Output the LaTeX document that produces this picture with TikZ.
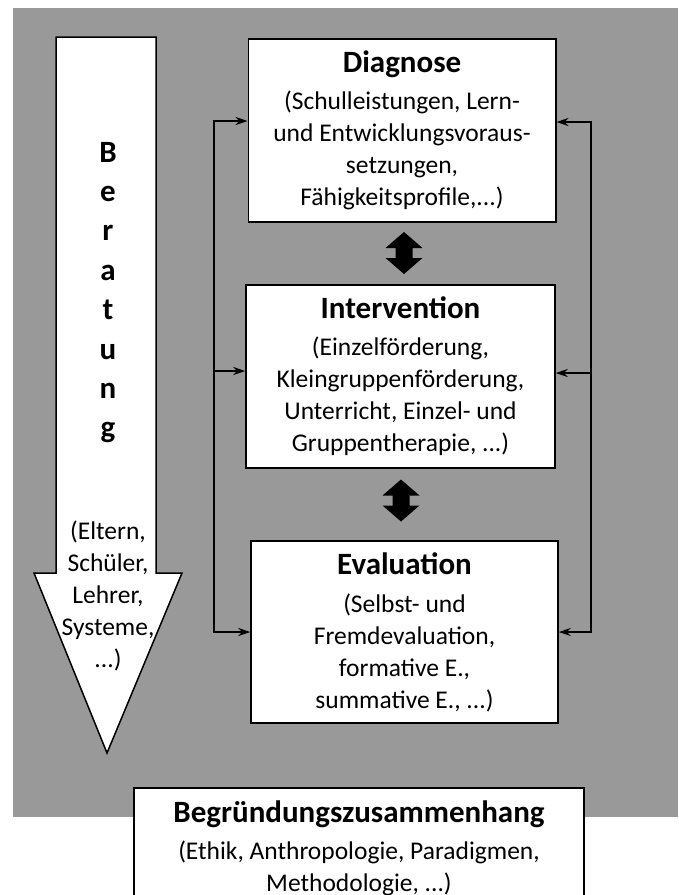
\documentclass[tikz,border=0pt]{standalone}
\usepackage{fontspec}
\setmainfont{Carlito}
\usetikzlibrary{arrows.meta}
\definecolor{panelgray}{RGB}{153,153,153}
\newcommand\boxtitle[1]{{\fontsize{31}{38}\selectfont\bfseries #1}}
\begin{document}
\begin{tikzpicture}[x=1pt,y=-1pt,
  bodyfont/.style={font=\fontsize{25.5}{32}\selectfont},
  box/.style={draw=black, line width=1.5pt, fill=white, align=center, inner sep=0pt, bodyfont},
  link/.style={line width=1.3pt, draw=black, line join=miter},
  linkarrow/.style={link, -{Stealth[length=12pt,width=8pt]}},
  dblarrow/.pic={\fill[black] (0,-21) -- (18.5,-5) -- (8.5,-5) -- (8.5,5) -- (18.5,5) -- (0,21)
     -- (-18.5,5) -- (-8.5,5) -- (-8.5,-5) -- (-18.5,-5) -- cycle;},
]
\useasboundingbox (0,0) rectangle (678,895);
% grey panel behind the process
\fill[panelgray] (13,8) rectangle (678,817);

% Beratung: large downward arrow
\draw[line width=1.5pt, fill=white, line join=miter]
  (56,37) -- (156,37) -- (156,573) -- (182,573) -- (107,753) -- (34,573) -- (56,573) -- cycle;
\foreach \c [count=\i from 0] in {B,e,r,a,t,u,n,g}
  \node[anchor=base, inner sep=0pt, font=\fontsize{31}{38}\selectfont\bfseries] (ber\i) at (108,{162+39.4*\i}) {\c};
\node[align=center, inner sep=0pt, bodyfont] (bsub) at (108,596) {(Eltern,\\Schüler,\\Lehrer,\\Systeme,\\...)};

% process boxes
\node[box, minimum width=307.5pt, minimum height=183pt] (diag) at (402,130.5)
  {\boxtitle{Diagnose}\\[5pt](Schulleistungen, Lern-\\und Entwicklungsvoraus-\\setzungen,\\Fähigkeitsprofile,...)};
\node[box, minimum width=309pt, minimum height=183pt] (interv) at (400.5,376.5)
  {\boxtitle{Intervention}\\[5pt](Einzelförderung,\\Kleingruppenförderung,\\Unterricht, Einzel- und\\Gruppentherapie, ...)};
\node[box, minimum width=307pt, minimum height=182pt] (eval) at (404.5,632)
  {\boxtitle{Evaluation}\\[6pt](Selbst- und\\Fremdevaluation,\\formative E.,\\summative E., ...)};

% two-way arrows between the steps
\pic at (404,253) {dblarrow};
\pic at (401,500.5) {dblarrow};

% feedback loops on both sides
\coordinate (lt) at (214,121);
\coordinate (lm) at (214,371);
\coordinate (lb) at (214,632);
\coordinate (rt) at (591,122);
\coordinate (rm) at (591,373);
\coordinate (rb) at (591,632);
\draw[linkarrow] (lm) -- (lt) -- (lt -| diag.west);
\draw[linkarrow] (lm) -- (lb) -- (lb -| eval.west);
\draw[linkarrow] (lm) -- (lm -| interv.west);
\draw[linkarrow] (rm) -- (rt) -- (rt -| diag.east);
\draw[linkarrow] (rm) -- (rb) -- (rb -| eval.east);
\draw[linkarrow] (rm) -- (rm -| interv.east);

% foundation box, open at the lower page edge
\node[fill=white, align=center, inner sep=0pt, bodyfont, minimum width=450pt, minimum height=121pt] (found) at (359,848.5)
  {\boxtitle{Begründungszusammenhang}\\[5pt](Ethik, Anthropologie, Paradigmen,\\Methodologie, ...)};
\draw[line width=1.5pt] (found.south west) -- (found.north west) -- (found.north east) -- (found.south east);
\end{tikzpicture}
\end{document}
